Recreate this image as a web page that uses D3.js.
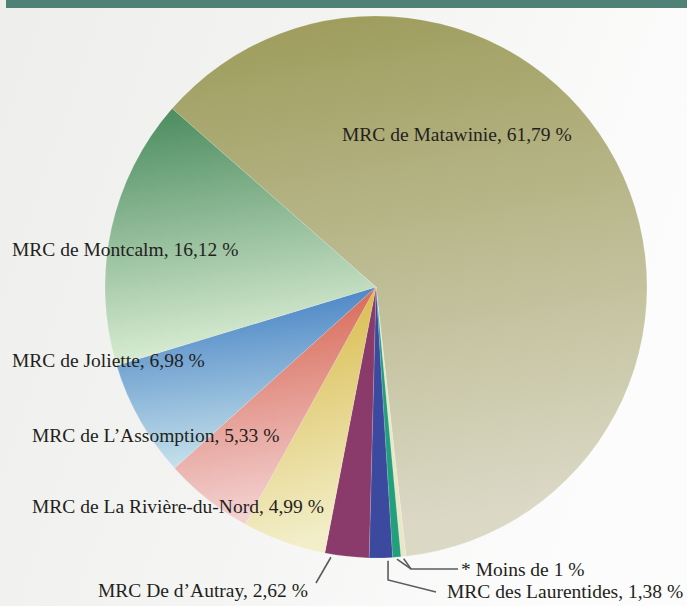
<!DOCTYPE html>
<html>
<head>
<meta charset="utf-8">
<script src="https://cdn.jsdelivr.net/npm/d3@7"></script>
<style>
  html, body { margin: 0; padding: 0; background: #f3f4f2; }
  svg { display: block; }
  .lbl { font-family: "Liberation Serif", "DejaVu Serif", serif; font-size: 19.5px; fill: #231f20; }
</style>
</head>
<body>
<div id="chart"></div>
<script>
// données (ordre horaire à partir de Matawinie)
const regions = [
    "MRC de Matawinie",
    "moins1a",
    "moins1b",
    "MRC des Laurentides",
    "MRC De d’Autray",
    "MRC de La Rivière-du-Nord",
    "MRC de L’Assomption",
    "MRC de Joliette",
    "MRC de Montcalm"
];
const shares = [61.79, 0.30, 0.49, 1.38, 2.62, 4.99, 5.33, 6.98, 16.12];
const shareLabels = ["61,79 %", "", "", "1,38 %", "2,62 %", "4,99 %", "5,33 %", "6,98 %", "16,12 %"];
const smallLabel = "* Moins de 1 %";

// couleurs : haut -> bas de chaque tranche
const topColors = ["#9b9a58", "#ebe7c6", "#22a07b", "#3b499f", "#8a3a69", "#d6b53e", "#d45a45", "#3a79c1", "#47895b"];
const bottomColors = ["#dbd9c6", "#ebe7c6", "#22a07b", "#3b499f", "#8a3b6b", "#f2eec9", "#f3d2d2", "#c4e0ea", "#dbeed5"];

const width = 687, height = 606;
const cx = 376, cy = 287, radius = 271;
const startDeg = -48.8;

const svg = d3.select("#chart").append("svg")
    .attr("width", width)
    .attr("height", height);

const defs = svg.append("defs");

// fond
const bg = defs.append("linearGradient").attr("id", "bg")
    .attr("x1", 0).attr("y1", 0).attr("x2", 1).attr("y2", 0.3);
bg.append("stop").attr("offset", 0).attr("stop-color", "#eeefed");
bg.append("stop").attr("offset", 0.45).attr("stop-color", "#f3f4f2");
bg.append("stop").attr("offset", 1).attr("stop-color", "#fbfcfb");
svg.append("rect").attr("width", width).attr("height", height).attr("fill", "url(#bg)");

// bandeau du haut
svg.append("rect")
    .attr("x", 6).attr("y", 0)
    .attr("width", width - 6).attr("height", 8)
    .attr("fill", "#4f8276");

shares.forEach((d, i) => {
    const g = defs.append("linearGradient").attr("id", "g" + i)
        .attr("x1", 0).attr("y1", 0).attr("x2", 0.15).attr("y2", 1);
    g.append("stop").attr("offset", 0).attr("stop-color", topColors[i]);
    g.append("stop").attr("offset", 1).attr("stop-color", bottomColors[i]);
});

const pie = d3.pie()
    .sort(null)
    .value(d => d)
    .startAngle(startDeg * Math.PI / 180)
    .endAngle(startDeg * Math.PI / 180 + 2 * Math.PI);

const arcs = pie(shares);
const arc = d3.arc().innerRadius(0).outerRadius(radius);

const chart = svg.append("g").attr("transform", `translate(${cx},${cy})`);

chart.selectAll("path.slice")
    .data(arcs)
    .enter()
    .append("path")
    .attr("class", "slice")
    .attr("d", arc)
    .attr("fill", (d, i) => `url(#g${i})`)
    .attr("stroke", "rgba(255,255,255,0.3)")
    .attr("stroke-width", 0.5);

// point sur le bord d'une tranche (fraction de l'angle)
function edgePoint(a, frac, r) {
    const ang = a.startAngle + (a.endAngle - a.startAngle) * frac;
    return [cx + r * Math.sin(ang), cy - r * Math.cos(ang)];
}

// étiquettes
const labelPos = [
    [342, 141], null, null, [447, 598], [98, 597],
    [32, 513], [32, 442], [12, 367], [12, 256]
];

labelPos.forEach((p, i) => {
    if (!p) return;
    svg.append("text")
        .attr("class", "lbl")
        .attr("x", p[0])
        .attr("y", p[1])
        .text(`${regions[i]}, ${shareLabels[i]}`);
});

svg.append("text")
    .attr("class", "lbl")
    .attr("x", 461)
    .attr("y", 576)
    .text(smallLabel);

// traits de rappel
const lineColor = "#5a5d5c";
const lead = svg.append("g")
    .attr("fill", "none")
    .attr("stroke", lineColor)
    .attr("stroke-width", 1.6);

// D'Autray
const pA = edgePoint(arcs[4], 0.85, radius + 3);
lead.append("path").attr("d", d3.line()([pA, [316, 583]]));

// Laurentides
const pL = edgePoint(arcs[3], 0.2, radius + 3);
lead.append("path").attr("d", d3.line()([pL, [pL[0], 580], [436, 592]]));

// moins de 1 %
const p1 = edgePoint(arcs[1], 0.5, radius + 2);
const p2 = edgePoint(arcs[2], 0.5, radius + 2);
lead.append("path").attr("d", d3.line()([p2, [411, 569], [458, 569]]));
lead.append("path").attr("d", d3.line()([p1, [411, 569]]));
</script>
</body>
</html>
